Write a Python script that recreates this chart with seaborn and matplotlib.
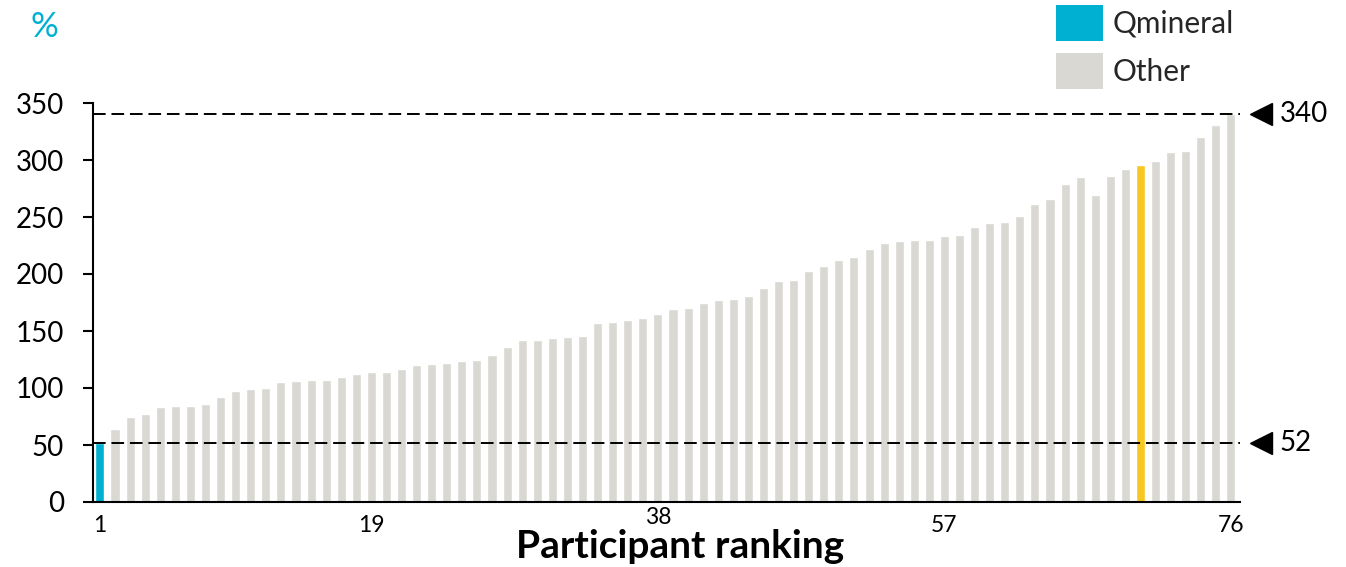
import matplotlib
matplotlib.use("Agg")
import matplotlib.pyplot as plt
from matplotlib.patches import Patch
import matplotlib.transforms as mtransforms
import seaborn as sns
import pandas as pd

# Ranking values (%) for all 76 participants, sorted by rank
ranks = list(range(1, 77))
values = [52, 64, 75, 77, 83, 84, 84, 86, 92, 97,
          99, 100, 105, 106, 107, 107, 110, 112, 114, 114,
          117, 120, 121, 122, 124, 125, 129, 136, 142, 142,
          144, 145, 146, 157, 158, 160, 161, 165, 169, 170,
          175, 177, 178, 181, 188, 194, 195, 203, 207, 212,
          215, 222, 227, 229, 230, 230, 233, 234, 241, 245,
          246, 251, 261, 266, 279, 285, 269, 286, 292, 296,
          299, 307, 308, 320, 331, 340]
qmineral_rank = 1
highlight_rank = 70
tick_ranks = [1, 19, 38, 57, 76]
ref_lines = [340, 52]
legend_labels = ["Qmineral", "Other"]

CYAN = "#00B0D2"
GREY = "#D9D8D3"
YELLOW = "#F8C822"

groups = []
for r in ranks:
    if r == qmineral_rank:
        groups.append("Qmineral")
    elif r == highlight_rank:
        groups.append("Highlight")
    else:
        groups.append("Other")
df = pd.DataFrame({"rank": ranks, "value": values, "group": groups})

sns.set_theme(style="white")
plt.rcParams["font.family"] = ["Lato", "DejaVu Sans"]

fig = plt.figure(figsize=(13.46, 5.67), dpi=100)
ax = fig.add_axes([93 / 1346, 65 / 567, 1147 / 1346, 399 / 567])

sns.barplot(data=df, x="rank", y="value", hue="group",
            palette={"Qmineral": CYAN, "Other": GREY, "Highlight": YELLOW},
            dodge=False, width=0.6, saturation=1, legend=False, ax=ax)

ax.set_ylim(0, 350)
ax.set_xlim(-0.46, 75.6)
ax.set_yticks(range(0, 351, 50))
ax.set_xticks([r - 1 for r in tick_ranks])
ax.set_xticklabels([str(r) for r in tick_ranks])
ax.set_xlabel("")
ax.set_ylabel("")

for s in ["top", "right"]:
    ax.spines[s].set_visible(False)
for s in ["left", "bottom"]:
    ax.spines[s].set_color("black")
    ax.spines[s].set_linewidth(1.5)

ax.tick_params(axis="y", which="major", left=True, length=7, width=1.5,
               color="black", labelsize=20, pad=14, labelcolor="black")
ax.tick_params(axis="x", which="major", bottom=False, length=0,
               labelsize=16.5, pad=9, labelcolor="black")
for lbl in ax.get_xticklabels():
    # the middle tick label sits slightly higher
    if lbl.get_text() == "38":
        lbl.set_transform(lbl.get_transform() +
                          mtransforms.ScaledTranslation(0, 7 / 100, fig.dpi_scale_trans))

fig.text(680 / 1346, 1 - 558 / 567, "Participant ranking", fontsize=28,
         fontweight="bold", ha="center", va="baseline", color="black")

# reference lines with arrow markers and labels on the right
for v in ref_lines:
    ax.axhline(v, color="black", lw=1.4, dashes=(6.5, 3), zorder=3)
    ax.plot([1.0183], [v], marker="<", markersize=16, color="black",
            transform=ax.get_yaxis_transform(), clip_on=False)
    ax.text(1.0345, v, str(v), transform=ax.get_yaxis_transform(),
            fontsize=20, va="center", ha="left", color="black")

fig.text(44 / 1346, 1 - 27 / 567, "%", color=CYAN, fontsize=25,
         ha="center", va="center")

handles = [Patch(facecolor=CYAN, edgecolor="none"),
           Patch(facecolor=GREY, edgecolor="none")]
fig.legend(handles, legend_labels, loc="upper left",
           bbox_to_anchor=(1056 / 1346, 1 - 5 / 567), frameon=False,
           fontsize=21.5, handlelength=1.57, handleheight=1.48,
           handletextpad=0.33, labelspacing=0.4, borderpad=0, borderaxespad=0)

fig.savefig("out.png", dpi=100)
